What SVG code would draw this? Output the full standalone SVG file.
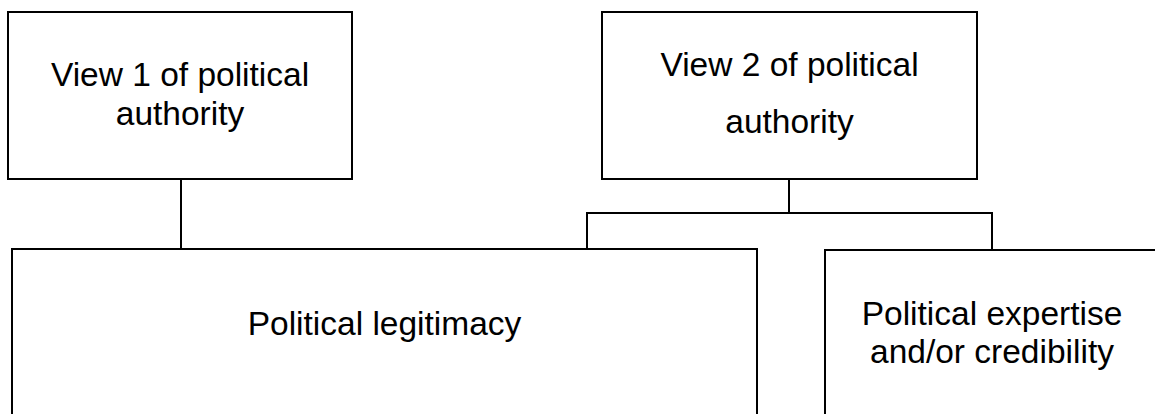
<svg xmlns="http://www.w3.org/2000/svg" width="1155" height="414" viewBox="0 0 1155 414">
<style>
.box{fill:#fff;stroke:#000;stroke-width:2}
.conn{fill:none;stroke:#000;stroke-width:2}
text{font-family:"Liberation Sans",Arial,sans-serif;font-size:33.5px;fill:#000;text-anchor:middle}
</style>
<rect width="1155" height="414" fill="#fff"/>
<g id="connectors">
<path class="conn" d="M181,179 V249"/>
<path class="conn" d="M789,179 V213 M587,213 H992 M587,212 V249 M992,212 V250"/>
</g>
<g id="view1">
<rect class="box" x="8" y="12" width="344" height="167"/>
<text x="180" y="86">View 1 of political</text>
<text x="180" y="125">authority</text>
</g>
<g id="view2">
<rect class="box" x="602" y="12" width="375" height="167"/>
<text x="789.5" y="76">View 2 of political</text>
<text x="789.5" y="133">authority</text>
</g>
<g id="legitimacy">
<rect class="box" x="12" y="249" width="745" height="200"/>
<text x="384.5" y="335">Political legitimacy</text>
</g>
<g id="expertise">
<rect class="box" x="825" y="250" width="340" height="200"/>
<text x="992" y="325">Political expertise</text>
<text x="992" y="363">and/or credibility</text>
</g>
</svg>
